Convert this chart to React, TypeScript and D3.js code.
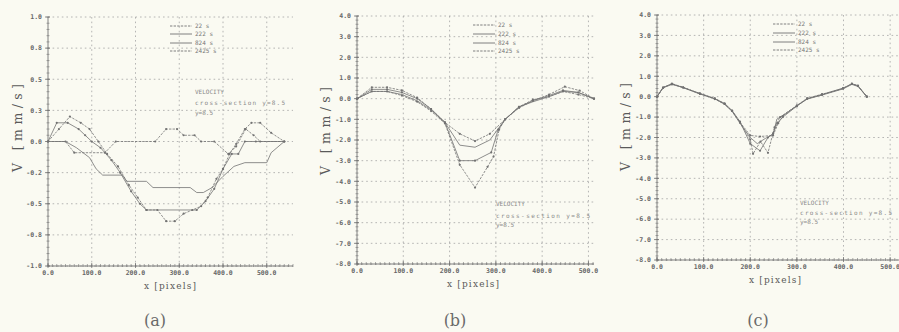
import React from "react";
import * as d3 from "d3";

type Pt = [number, number];

const seriesNames = ["22 s", "222 s", "824 s", "2425 s"];

// Panel (a): velocity profiles, x in pixels, V in mm/s
const a22: Pt[] = [
  [0, 0], [40, 0], [60, -0.09], [130, -0.09], [155, 0], [245, 0], [270, 0.1], [295, 0.1],
  [310, 0.05], [335, 0.05], [350, 0], [380, 0], [412, -0.1], [430, -0.04], [452, 0.1],
  [470, 0.05], [485, 0], [540, 0],
];
const a222: Pt[] = [
  [0, 0], [40, 0], [65, -0.05], [95, -0.13], [110, -0.22], [125, -0.27], [170, -0.27],
  [180, -0.32], [225, -0.32], [240, -0.37], [325, -0.37], [340, -0.41], [355, -0.41],
  [375, -0.37], [400, -0.28], [425, -0.2], [450, -0.17], [500, -0.17], [510, -0.09], [540, 0],
];
const a824: Pt[] = [
  [0, 0], [20, 0.15], [45, 0.15], [70, 0.1], [85, 0.05], [100, 0], [120, -0.05],
  [145, -0.15], [165, -0.25], [190, -0.4], [210, -0.5], [225, -0.55], [340, -0.55],
  [360, -0.48], [380, -0.38], [400, -0.22], [420, -0.1], [435, -0.1], [450, 0], [475, 0], [540, 0],
];
const a2425: Pt[] = [
  [0, 0], [25, 0.1], [50, 0.2], [75, 0.15], [95, 0.1], [115, 0], [135, -0.1], [160, -0.2],
  [185, -0.35], [205, -0.45], [225, -0.55], [250, -0.55], [270, -0.64], [290, -0.64],
  [310, -0.58], [330, -0.55], [350, -0.52], [365, -0.45], [385, -0.3], [400, -0.22],
  [415, -0.1], [430, -0.02], [450, 0.1], [465, 0.15], [485, 0.15], [510, 0.07], [540, 0],
];

// Panel (b)
const b22: Pt[] = [
  [0, 0], [32, 0.55], [65, 0.55], [97, 0.4], [130, 0.05], [160, -0.5], [190, -1.15],
  [222, -1.7], [255, -2.05], [287, -1.7], [320, -1.0], [350, -0.45], [380, -0.1],
  [415, 0.2], [449, 0.58], [481, 0.39], [512, 0],
];
const b222: Pt[] = [
  [0, 0], [32, 0.35], [65, 0.35], [97, 0.2], [130, -0.1], [160, -0.55], [190, -1.15],
  [222, -2.25], [255, -2.35], [287, -2.0], [320, -1.0], [350, -0.4], [380, -0.15],
  [415, 0.1], [445, 0.35], [478, 0.3], [512, 0],
];
const b824: Pt[] = [
  [0, 0], [32, 0.45], [65, 0.45], [97, 0.3], [130, 0], [160, -0.5], [190, -1.15],
  [222, -3.0], [255, -3.0], [290, -2.6], [305, -1.5], [320, -1.0], [350, -0.4],
  [380, -0.1], [415, 0.15], [445, 0.4], [478, 0.3], [512, 0],
];
const b2425: Pt[] = [
  [0, 0], [32, 0.35], [65, 0.35], [97, 0.15], [130, -0.15], [160, -0.6], [190, -1.2],
  [222, -3.2], [255, -4.3], [282, -3.3], [295, -2.8], [307, -1.5], [320, -1.0],
  [350, -0.4], [380, -0.05], [415, 0.1], [445, 0.35], [478, 0.2], [512, 0],
];

// Panel (c)
const c22: Pt[] = [
  [0, 0], [13, 0.45], [32, 0.62], [56, 0.45], [92, 0.15], [124, -0.08], [145, -0.35],
  [161, -0.7], [178, -1.25], [200, -1.9], [221, -1.95], [249, -1.9], [260, -1.3],
  [270, -0.95], [300, -0.45], [322, -0.1], [354, 0.1], [399, 0.4], [418, 0.62],
  [431, 0.52], [450, 0],
];
const c222: Pt[] = [
  [0, 0], [13, 0.45], [32, 0.63], [56, 0.44], [92, 0.13], [124, -0.1], [145, -0.38],
  [161, -0.72], [178, -1.3], [200, -2.0], [215, -2.3], [232, -2.05], [249, -1.85],
  [257, -1.1], [270, -0.93], [300, -0.44], [322, -0.12], [354, 0.08], [399, 0.38],
  [418, 0.6], [431, 0.5], [450, 0],
];
const c824: Pt[] = [
  [0, 0], [13, 0.43], [32, 0.6], [56, 0.45], [92, 0.16], [124, -0.1], [145, -0.33],
  [161, -0.68], [178, -1.22], [200, -2.3], [221, -2.65], [238, -2.0], [249, -1.8],
  [258, -1.3], [270, -1.0], [300, -0.46], [322, -0.1], [354, 0.1], [399, 0.42],
  [418, 0.63], [431, 0.54], [450, 0],
];
const c2425: Pt[] = [
  [0, 0], [13, 0.44], [32, 0.64], [56, 0.46], [92, 0.14], [124, -0.12], [145, -0.36],
  [161, -0.7], [178, -1.28], [200, -2.1], [206, -2.8], [222, -2.2], [238, -2.75],
  [252, -1.5], [264, -1.0], [300, -0.43], [322, -0.08], [354, 0.12], [399, 0.4],
  [418, 0.64], [431, 0.53], [450, 0],
];

const xTickValues = [0, 100, 200, 300, 400, 500];
const xTickLabels = ["0.0", "100.0", "200.0", "300.0", "400.0", "500.0"];
const aYTicks = [1, 0.75, 0.5, 0.25, 0, -0.25, -0.5, -0.75, -1];
const aYLabels = ["1.0", "0.8", "0.5", "0.3", "0.0", "-0.2", "-0.5", "-0.8", "-1.0"];
const bcYTicks = [4, 3, 2, 1, 0, -1, -2, -3, -4, -5, -6, -7, -8];
const bcYLabels = ["4.0", "3.0", "2.0", "1.0", "0.0", "-1.0", "-2.0", "-3.0", "-4.0", "-5.0", "-6.0", "-7.0", "-8.0"];
const noteLines = ["VELOCITY", "cross-section y=8.5", "y=8.5"];
const panelTags = ["(a)", "(b)", "(c)"];

const lineDash = ["2.4,1.2", "", "", "2.4,1.2"];
const lineMarkers = [true, false, true, true];

interface Layout {
  x0: number; x1: number; xMax: number;
  yTop: number; yBot: number; yMin: number; yMax: number;
  yTicks: number[]; yLabels: string[]; yMinor: number;
  legendX: number; legendRows: number[];
  noteX: number; noteRows: number[]; noteWidth: number;
  yLabelX: number; yLabelY: number;
  xLabelX: number; tagX: number;
  series: Pt[][]; tag: string;
}

const layouts: Layout[] = [
  {
    x0: 48, x1: 293, xMax: 560, yTop: 17, yBot: 266, yMin: -1, yMax: 1,
    yTicks: aYTicks, yLabels: aYLabels, yMinor: 0.05,
    legendX: 170, legendRows: [26, 34, 43, 51],
    noteX: 195, noteRows: [92, 103, 113], noteWidth: 90,
    yLabelX: 17, yLabelY: 128, xLabelX: 170, tagX: 155,
    series: [a22, a222, a824, a2425], tag: panelTags[0],
  },
  {
    x0: 357, x1: 594, xMax: 512, yTop: 16, yBot: 264, yMin: -8, yMax: 4,
    yTicks: bcYTicks, yLabels: bcYLabels, yMinor: 0.2,
    legendX: 473, legendRows: [25, 34, 43, 51],
    noteX: 496, noteRows: [204, 216, 225], noteWidth: 94,
    yLabelX: 325, yLabelY: 131, xLabelX: 473, tagX: 455,
    series: [b22, b222, b824, b2425], tag: panelTags[1],
  },
  {
    x0: 657, x1: 899, xMax: 519, yTop: 15, yBot: 260, yMin: -8, yMax: 4,
    yTicks: bcYTicks, yLabels: bcYLabels, yMinor: 0.2,
    legendX: 773, legendRows: [24, 33, 42, 50],
    noteX: 800, noteRows: [203, 213, 222], noteWidth: 92,
    yLabelX: 625, yLabelY: 127, xLabelX: 775, tagX: 758,
    series: [c22, c222, c824, c2425], tag: panelTags[2],
  },
];

const INK = "#727272";
const GRID = "#a3a3a3";
const TICK_FONT = "'DejaVu Sans Mono', monospace";

function Panel({ L }: { L: Layout }) {
  const x = d3.scaleLinear().domain([0, L.xMax]).range([L.x0, L.x1]);
  const y = d3.scaleLinear().domain([L.yMin, L.yMax]).range([L.yBot, L.yTop]);
  const line = d3.line<Pt>().x((d) => x(d[0])).y((d) => y(d[1]));
  const xMinor = d3.range(0, L.xMax + 0.001, 10);
  const yMinor = d3.range(L.yMin, L.yMax + 1e-6, L.yMinor);

  return (
    <g>
      {/* grid */}
      {L.yTicks.map((t) => (
        <line key={"gy" + t} x1={L.x0} x2={L.x1} y1={y(t)} y2={y(t)}
          stroke={GRID} strokeWidth={0.8} strokeDasharray="1.6,3" />
      ))}
      {xTickValues.filter((t) => t > 0).map((t) => (
        <line key={"gx" + t} x1={x(t)} x2={x(t)} y1={L.yTop} y2={L.yBot}
          stroke={GRID} strokeWidth={0.8} strokeDasharray="1.6,3" />
      ))}

      {/* axes */}
      <line x1={L.x0} x2={L.x0} y1={L.yTop} y2={L.yBot} stroke={INK} strokeWidth={0.9} />
      <line x1={L.x0} x2={L.x1} y1={L.yBot} y2={L.yBot} stroke={INK} strokeWidth={0.9} />
      {yMinor.map((t, i) => (
        <line key={"ym" + i} x1={L.x0 - 1.5} x2={L.x0 + 1.5} y1={y(t)} y2={y(t)} stroke={INK} strokeWidth={0.6} />
      ))}
      {L.yTicks.map((t) => (
        <line key={"yt" + t} x1={L.x0 - 3} x2={L.x0 + 2} y1={y(t)} y2={y(t)} stroke={INK} strokeWidth={0.8} />
      ))}
      {xMinor.map((t, i) => (
        <line key={"xm" + i} x1={x(t)} x2={x(t)} y1={L.yBot - 2} y2={L.yBot + 1} stroke={INK} strokeWidth={0.6} />
      ))}
      {xTickValues.map((t) => (
        <line key={"xt" + t} x1={x(t)} x2={x(t)} y1={L.yBot - 3} y2={L.yBot + 2} stroke={INK} strokeWidth={0.8} />
      ))}

      {/* tick labels */}
      {L.yTicks.map((t, i) => (
        <text key={"yl" + t} x={L.x0 - 6} y={y(t)} dy="0.35em" textAnchor="end"
          fontFamily={TICK_FONT} fontSize={6.5} fontWeight="bold" fill="#666">{L.yLabels[i]}</text>
      ))}
      {xTickValues.map((t, i) => (
        <text key={"xl" + t} x={x(t)} y={L.yBot + 9} textAnchor="middle"
          fontFamily={TICK_FONT} fontSize={6.5} fontWeight="bold" fill="#666">{xTickLabels[i]}</text>
      ))}

      {/* data */}
      {L.series.map((s, si) => (
        <g key={"s" + si}>
          <path d={line(s) || ""} fill="none" stroke={INK} strokeWidth={0.8}
            strokeDasharray={lineDash[si] || undefined} />
          {lineMarkers[si] && s.map((p, pi) => (
            <circle key={pi} cx={x(p[0])} cy={y(p[1])} r={1.1} fill={INK} />
          ))}
        </g>
      ))}

      {/* legend */}
      {seriesNames.map((n, i) => (
        <g key={"lg" + i}>
          <line x1={L.legendX} x2={L.legendX + 22} y1={L.legendRows[i]} y2={L.legendRows[i]}
            stroke={INK} strokeWidth={0.9} strokeDasharray={lineDash[i] || undefined} />
          <text x={L.legendX + 25} y={L.legendRows[i]} dy="0.35em" fontFamily={TICK_FONT}
            fontSize={6} fill="#777">{n}</text>
        </g>
      ))}

      {/* annotation */}
      {noteLines.map((t, i) => (
        <text key={"nt" + i} x={L.noteX} y={L.noteRows[i]} dy="0.35em" fontFamily={TICK_FONT}
          fontSize={6} fill="#8a8a8a"
          {...(i === 1 ? { textLength: L.noteWidth, lengthAdjust: "spacing" } : {})}>{t}</text>
      ))}

      {/* axis titles */}
      <text x={L.yLabelX} y={L.yLabelY} transform={`rotate(-90 ${L.yLabelX} ${L.yLabelY})`}
        textAnchor="middle" dominantBaseline="central" fontFamily="'DejaVu Serif', serif"
        fontSize={12.5} fill="#5a5a5a" textLength={88} lengthAdjust="spacing">V [mm/s]</text>
      <text x={L.xLabelX} y={L.yBot + 23} textAnchor="middle" fontFamily="'DejaVu Serif', serif"
        fontSize={9} fill="#5a5a5a" textLength={52} lengthAdjust="spacing">x [pixels]</text>
      <text x={L.tagX} y={326} textAnchor="middle" fontFamily="'DejaVu Serif', serif"
        fontSize={16} fill="#6a6a6a">{L.tag}</text>
    </g>
  );
}

export default function App() {
  return (
    <svg width={899} height={332} style={{ position: "absolute", left: 0, top: 0, background: "#fafaf2" }}>
      <rect x={0} y={0} width={899} height={332} fill="#fafaf2" />
      {layouts.map((L, i) => (
        <Panel key={i} L={L} />
      ))}
    </svg>
  );
}
